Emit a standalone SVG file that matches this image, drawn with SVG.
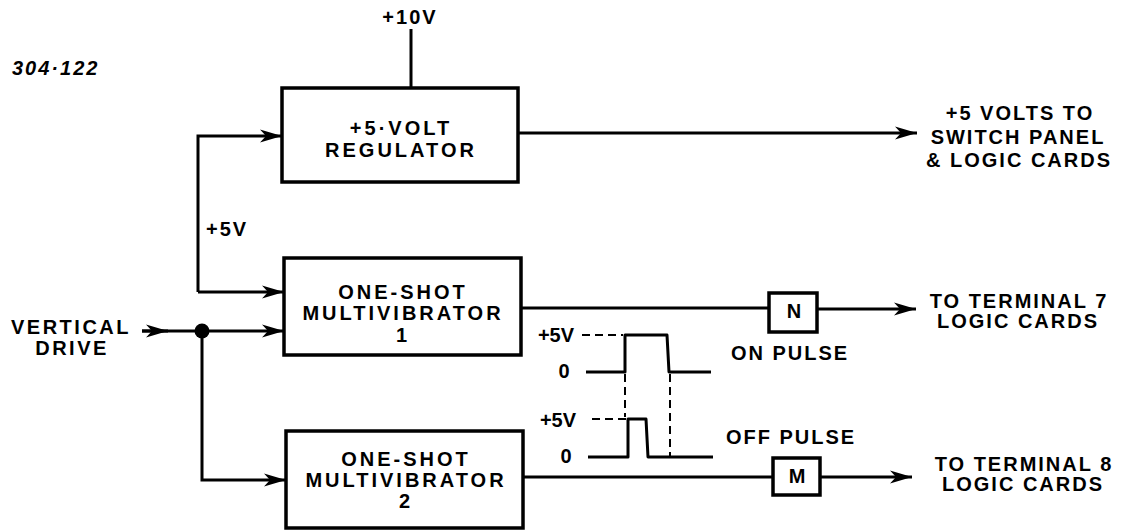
<svg xmlns="http://www.w3.org/2000/svg" width="1121" height="531" viewBox="0 0 1121 531">
<defs>
<style>
text{font-family:"Liberation Sans",Arial,sans-serif;font-weight:bold;font-size:20px;fill:#000;letter-spacing:2px}
.box{fill:#fff;stroke:#000;stroke-width:3.5}
.bt{letter-spacing:3px}
.ln{fill:none;stroke:#000;stroke-width:3}
.wave{fill:none;stroke:#000;stroke-width:3;stroke-linejoin:round}
.dash{fill:none;stroke:#000;stroke-width:2;stroke-dasharray:8 5}
</style>
<marker id="ah" markerUnits="userSpaceOnUse" markerWidth="24" markerHeight="16" refX="22" refY="8" orient="auto">
<path d="M22,8 L0,1.5 L6,8 L0,14.5 Z" fill="#000"/>
</marker>
</defs>
<rect width="1121" height="531" fill="#fff"/>
<text x="12" y="75" style="font-style:italic">304·122</text>
<g id="connectors">
<path class="ln" d="M411,29 V88"/>
<path class="ln" d="M198,292 V136 H282" marker-end="url(#ah)"/>
<path class="ln" d="M198,292 H284" marker-end="url(#ah)"/>
<path class="ln" d="M142,331 H202"/>
<path class="ln" d="M142,331 H168" marker-end="url(#ah)"/>
<path class="ln" d="M202,331 H284" marker-end="url(#ah)"/>
<path class="ln" d="M202,331 V480 H286" marker-end="url(#ah)"/>
<circle cx="202" cy="331" r="7.5" fill="#000"/>
<path class="ln" d="M518,133 H917" marker-end="url(#ah)"/>
<path class="ln" d="M521,308 H769"/>
<path class="ln" d="M817,309 H916" marker-end="url(#ah)"/>
<path class="ln" d="M523,477 H773"/>
<path class="ln" d="M820,477 H912" marker-end="url(#ah)"/>
</g>
<g id="regulator">
<rect class="box" x="282" y="88" width="236" height="94"/>
<text class="bt" x="401" y="135" text-anchor="middle">+5·VOLT</text>
<text class="bt" x="401" y="157" text-anchor="middle">REGULATOR</text>
</g>
<g id="oneshot1">
<rect class="box" x="284" y="258" width="237" height="97"/>
<text class="bt" x="403" y="299" text-anchor="middle">ONE-SHOT</text>
<text class="bt" x="403" y="320" text-anchor="middle">MULTIVIBRATOR</text>
<text class="bt" x="403" y="342" text-anchor="middle">1</text>
</g>
<g id="oneshot2">
<rect class="box" x="286" y="431" width="237" height="97"/>
<text class="bt" x="406" y="466" text-anchor="middle">ONE-SHOT</text>
<text class="bt" x="406" y="487" text-anchor="middle">MULTIVIBRATOR</text>
<text class="bt" x="406" y="508" text-anchor="middle">2</text>
</g>
<g id="boxN">
<rect class="box" x="769" y="293" width="48" height="39" stroke-width="3"/>
<text x="794" y="318" text-anchor="middle" style="letter-spacing:0">N</text>
</g>
<g id="boxM">
<rect class="box" x="773" y="458" width="47" height="37" stroke-width="3"/>
<text x="797" y="483" text-anchor="middle" style="letter-spacing:0">M</text>
</g>
<g id="labels">
<text x="410" y="24" text-anchor="middle">+10V</text>
<text x="206" y="236">+5V</text>
<text x="71" y="334" text-anchor="middle" style="letter-spacing:2.5px">VERTICAL</text>
<text x="72" y="355" text-anchor="middle" style="letter-spacing:2.5px">DRIVE</text>
<text x="1020" y="120" text-anchor="middle">+5 VOLTS TO</text>
<text x="1018" y="144" text-anchor="middle">SWITCH PANEL</text>
<text x="1019" y="167" text-anchor="middle">&amp; LOGIC CARDS</text>
<text x="1019" y="308" text-anchor="middle">TO TERMINAL 7</text>
<text x="1018" y="328" text-anchor="middle">LOGIC CARDS</text>
<text x="1024" y="471" text-anchor="middle">TO TERMINAL 8</text>
<text x="1023" y="491" text-anchor="middle">LOGIC CARDS</text>
<text x="790" y="360" text-anchor="middle">ON PULSE</text>
<text x="791" y="444" text-anchor="middle">OFF PULSE</text>
</g>
<g id="waveforms">
<text x="556" y="342" text-anchor="middle" style="letter-spacing:0">+5V</text>
<text x="564" y="378" text-anchor="middle" style="letter-spacing:0">0</text>
<text x="558" y="427" text-anchor="middle" style="letter-spacing:0">+5V</text>
<text x="566" y="463" text-anchor="middle" style="letter-spacing:0">0</text>
<path class="dash" d="M582,335 H623"/>
<path class="dash" d="M592,419 H626"/>
<path class="dash" d="M625,374 V417"/>
<path class="dash" d="M670,374 V456"/>
<path class="wave" d="M586,372 H625 V335 H667 L669,372 H711"/>
<path class="wave" d="M588,457 H628 V419 H646 L648,457 H713"/>
</g>
</svg>
